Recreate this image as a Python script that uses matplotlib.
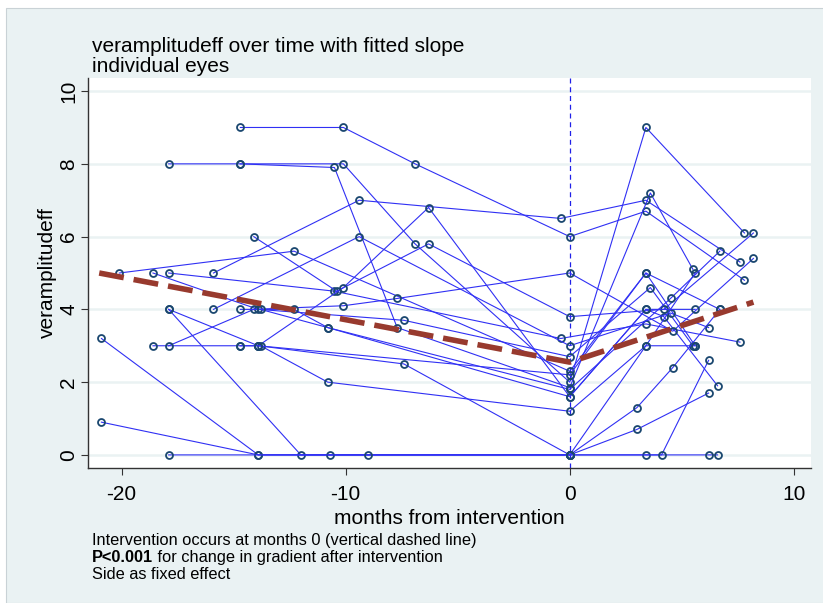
import matplotlib
matplotlib.use("Agg")
import matplotlib.pyplot as plt
from matplotlib.patches import Rectangle

# ── Data ────────────────────────────────────────────────────────────────────
# one entry per eye: months from intervention and measured veramplitudeff
eye_months = [
    [-14.7, -10.1, -6.9, 0.0, 3.4, 7.8],
    [-15.9, -9.4, -0.4, 3.4, 7.6],
    [-17.9, -14.7, -10.1, -6.9, 0.0, 3.4, 7.8],
    [-14.7, -10.5, -7.7, 0.0, 3.6, 5.5],
    [-20.1, -12.3, 0.0, 3.4, 5.6],
    [-18.6, -13.9, -7.4, 0.0, 3.6, 5.5],
    [-17.9, -10.5, -0.4, 3.4, 7.6],
    [-14.1, -10.4, -6.3, 0.0, 4.2, 8.2],
    [-13.9, -10.1, -6.3, 0.0, 3.4, 4.2, 6.6],
    [-15.9, -9.4, 0.0, 4.5, 6.2],
    [-17.9, -13.9, -7.4, 0.0, 3.0, 4.6, 6.7],
    [-17.9, -12.0, 0.0, 3.0, 6.2],
    [-18.6, -14.7, -13.8, -10.8, 0.0, 3.4, 5.6],
    [-17.9, -14.1, -10.1, -7.7, 0.0, 4.6, 8.2],
    [-20.9, -13.9, 0.0, 3.4, 5.6],
    [-20.9, -13.9, -10.7, 0.0, 3.4, 6.2, 6.6],
    [-17.9, -9.0, 0.0, 4.1, 6.2],
    [-14.7, -12.3, -10.8, 0.0, 4.5, 6.7],
    [-13.8, -10.8, 0.0, 3.4, 5.6],
    [-14.7, -13.9, 0.0, 3.4, 6.7],
]
eye_values = [
    [9.0, 9.0, 8.0, 6.0, 6.7, 4.8],
    [5.0, 7.0, 6.5, 7.0, 5.3],
    [8.0, 8.0, 8.0, 5.8, 2.0, 9.0, 6.1],
    [8.0, 7.9, 3.5, 1.85, 7.2, 5.1],
    [5.0, 5.6, 2.3, 5.0, 3.0],
    [5.0, 4.0, 3.7, 2.7, 4.6, 3.0],
    [5.0, 4.5, 3.2, 3.6, 3.1],
    [6.0, 4.5, 5.8, 3.8, 4.0, 6.1],
    [3.0, 4.6, 6.8, 1.6, 4.0, 3.8, 1.9],
    [4.0, 6.0, 3.0, 3.9, 3.5],
    [4.0, 3.0, 2.5, 0.0, 1.3, 2.4, 4.0],
    [4.0, 0.0, 0.0, 0.7, 1.7],
    [3.0, 3.0, 3.0, 2.0, 1.2, 3.0, 5.0],
    [3.0, 4.0, 4.1, 4.3, 5.0, 3.4, 5.4],
    [3.2, 0.0, 0.0, 3.0, 3.0],
    [0.9, 0.0, 0.0, 0.0, 0.0, 0.0, 0.0],
    [0.0, 0.0, 0.0, 0.0, 2.6],
    [4.0, 4.0, 3.5, 1.8, 4.3, 5.6],
    [4.0, 3.5, 1.6, 4.0, 4.0],
    [3.0, 3.0, 2.2, 5.0, 4.0],
]

# fitted piecewise slope (break at the intervention)
fit_months = [-21.0, 0.0, 8.2]
fit_values = [5.0, 2.55, 4.2]

x_ticks = [-20, -10, 0, 10]
y_ticks = [0, 2, 4, 6, 8, 10]

TITLE = "veramplitudeff over time with fitted slope"
SUBTITLE = "individual eyes"
NOTE1 = "Intervention occurs at months 0 (vertical dashed line)"
NOTE2_BOLD = "P<0.001"
NOTE2 = " for change in gradient after intervention"
NOTE3 = "Side as fixed effect"

# ── Style ───────────────────────────────────────────────────────────────────
W, H = 823, 603
BG = "#EAF2F3"
LINE_BLUE = "#3030F4"
MARKER_NAVY = "#1A476F"
FIT_RED = "#983A2E"
plt.rcParams["font.family"] = ["Liberation Sans", "DejaVu Sans"]
plt.rcParams["axes.unicode_minus"] = False

fig = plt.figure(figsize=(W / 100, H / 100), dpi=100, facecolor="white")
fig.patches.append(Rectangle((6 / W, 0), 1, 1 - 8 / H, transform=fig.transFigure,
                             facecolor=BG, edgecolor="#C9D2D6", lw=0.8, zorder=-5))

ax = fig.add_axes([88 / W, 1 - 468 / H, (811 - 88) / W, (468 - 78) / H])
ax.set_facecolor("white")
ax.set_xlim(-21.5, 10.77)
ax.set_ylim(-0.36, 10.36)

for s in ("top", "right"):
    ax.spines[s].set_visible(False)
for s in ("left", "bottom"):
    ax.spines[s].set_color("#333333")
    ax.spines[s].set_linewidth(1.0)

ax.set_xticks(x_ticks)
ax.set_yticks(y_ticks)
ax.tick_params(direction="out", length=5, width=0.8, color="#333333",
               labelsize=15, labelcolor="black")
ax.tick_params(axis="x", pad=7)
ax.tick_params(axis="y", pad=2)
for lab in ax.get_yticklabels():
    lab.set_rotation(90)
    lab.set_va("center")
ax.yaxis.grid(True, color=BG, lw=1.8)
ax.set_axisbelow(True)

ax.axvline(0, color="#2020E8", lw=0.9, ls=(0, (4, 3)), zorder=1)

for m, v in zip(eye_months, eye_values):
    ax.plot(m, v, color=LINE_BLUE, lw=0.8, marker="o", mfc="none",
            mec=MARKER_NAVY, ms=5, mew=1.3, zorder=2)

ax.plot(fit_months, fit_values, color=FIT_RED, lw=4.0,
        ls=(0, (4.5, 1.8)), dash_capstyle="butt", zorder=3)

ax.set_xlabel("months from intervention", fontsize=15, labelpad=4)
ax.set_ylabel("veramplitudeff", fontsize=15, labelpad=2)

# ── Titles and notes ────────────────────────────────────────────────────────
fig.text(92 / W, 1 - 52 / H, TITLE, fontsize=15, va="baseline")
fig.text(92 / W, 1 - 71.5 / H, SUBTITLE, fontsize=15, va="baseline")

fig.text(92 / W, 1 - 545.5 / H, NOTE1, fontsize=11.8, va="baseline")
t_bold = fig.text(92 / W, 1 - 562 / H, NOTE2_BOLD, fontsize=11.8,
                  fontweight="bold", va="baseline")
fig.add_artist(plt.Annotation(NOTE2, xy=(1, 0), xycoords=t_bold,
                              fontsize=11.8, va="bottom"))
fig.text(92 / W, 1 - 579 / H, NOTE3, fontsize=11.8, va="baseline")

fig.savefig("out.png", dpi=100, facecolor=fig.get_facecolor())
